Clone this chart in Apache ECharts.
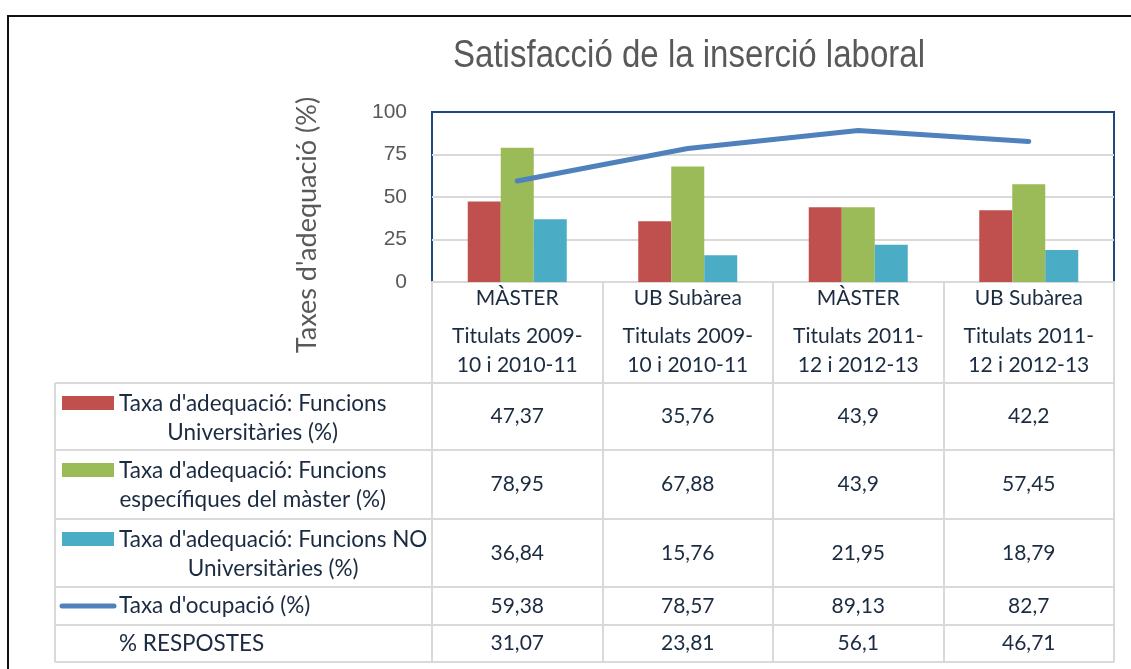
<!DOCTYPE html>
<html lang="ca">
<head>
<meta charset="UTF-8">
<title>Satisfacció de la inserció laboral</title>
<style>
    html, body { margin: 0; padding: 0; background: #fff; }
    #main { width: 1131px; height: 669px; }
</style>
</head>
<body>
<div id="main"></div>
<script src="https://cdn.jsdelivr.net/npm/echarts@6/dist/echarts.min.js"></script>
<script>
// categories
var groups = ['MÀSTER', 'UB Subàrea', 'MÀSTER', 'UB Subàrea'];
var periods = ['Titulats 2009-\n10 i 2010-11', 'Titulats 2009-\n10 i 2010-11',
               'Titulats 2011-\n12 i 2012-13', 'Titulats 2011-\n12 i 2012-13'];

// series values
var funcUniv   = [47.37, 35.76, 43.9, 42.2];
var funcMaster = [78.95, 67.88, 43.9, 57.45];
var funcNoUniv = [36.84, 15.76, 21.95, 18.79];
var ocupacio   = [59.38, 78.57, 89.13, 82.7];
var respostes  = [31.07, 23.81, 56.1, 46.71];

var rowNames = [
    "Taxa d'adequació: Funcions\nUniversitàries (%)",
    "Taxa d'adequació: Funcions\nespecífiques del màster (%)",
    "Taxa d'adequació: Funcions NO\nUniversitàries (%)",
    "Taxa d'ocupació (%)",
    "% RESPOSTES"
];
var rowData = [funcUniv, funcMaster, funcNoUniv, ocupacio, respostes];
var yTicks = [0, 25, 50, 75, 100];
var titleText = 'Satisfacció de la inserció laboral';

// look
var colors = ['#C0504D', '#9BBB59', '#4BACC6', '#4F81BD'];
var textColor = '#1B2B40';
var gridColor = '#D9D9D9';
var tableFont = 'Lato';
var tableSize = 21;
var legendSize = 22.5;
var axisY = 282;               // y of the category axis
var rowLines = [383, 450, 519, 587, 625, 662];
var tableLeft = 55, tableRight = 1114;

function fmt(v) { return String(v).replace('.', ','); }

var measureCtx = document.createElement('canvas').getContext('2d');
function textWidth(s, font) { measureCtx.font = font; return measureCtx.measureText(s).width; }

var myChart = echarts.init(document.getElementById('main'));

var xAxes = [{
    type: 'category',
    data: groups,
    position: 'bottom',
    axisLine: { lineStyle: { color: gridColor, width: 2 } },
    axisTick: { show: true, length: rowLines[5] - axisY, lineStyle: { color: gridColor, width: 2 } },
    axisLabel: {
        interval: 0, margin: 16, verticalAlign: 'middle',
        fontFamily: tableFont, fontSize: tableSize, color: textColor
    }
}, {
    type: 'category',
    data: periods,
    position: 'bottom',
    axisLine: { show: false },
    axisTick: { show: false },
    axisLabel: {
        interval: 0, margin: 69, lineHeight: 29, verticalAlign: 'middle',
        fontFamily: tableFont, fontSize: tableSize, color: textColor
    }
}];

// one hidden axis per table row, labels are the row values
rowData.forEach(function (row, r) {
    xAxes.push({
        type: 'category',
        data: groups,
        position: 'bottom',
        axisLine: { show: false },
        axisTick: { show: false },
        axisLabel: {
            interval: 0,
            margin: (rowLines[r] + rowLines[r + 1]) / 2 - axisY,
            verticalAlign: 'middle',
            fontFamily: tableFont, fontSize: tableSize, color: textColor,
            formatter: function (v, i) { return fmt(row[i]); }
        }
    });
});

var graphics = [];
// outer frame
graphics.push({
    type: 'polyline', silent: true,
    shape: { points: [[8, 700], [8, 16], [1140, 16]] },
    style: { stroke: '#111', lineWidth: 2, fill: null }
});
// title, condensed like the original narrow face
var titleFont = '38px "Liberation Sans"';
var titleScale = 472 / textWidth(titleText, titleFont);
graphics.push({
    type: 'text', silent: true, x: 689, y: 57, scaleX: titleScale,
    style: {
        text: titleText, fontFamily: 'Liberation Sans', fontSize: 38,
        fill: '#595959', align: 'center', verticalAlign: 'middle'
    }
});
// y axis title
graphics.push({
    type: 'text', silent: true, x: 307, y: 225, rotation: Math.PI / 2,
    style: {
        text: "Taxes d'adequació (%)", fontFamily: tableFont, fontSize: 27,
        fill: '#595959', align: 'center', verticalAlign: 'middle'
    }
});
// table lines
rowLines.forEach(function (y) {
    graphics.push({
        type: 'line', silent: true,
        shape: { x1: tableLeft, y1: y, x2: tableRight, y2: y },
        style: { stroke: gridColor, lineWidth: 2 }
    });
});
graphics.push({
    type: 'line', silent: true,
    shape: { x1: tableLeft, y1: rowLines[0], x2: tableLeft, y2: rowLines[5] },
    style: { stroke: gridColor, lineWidth: 2 }
});
// legend keys and row names
rowNames.forEach(function (name, r) {
    var top = rowLines[r], bottom = rowLines[r + 1];
    var lines = name.split('\n');
    var textX = 119;
    if (r < 3) {
        graphics.push({
            type: 'rect', silent: true,
            shape: { x: 62, y: top + 13, width: 52, height: 14 },
            style: { fill: colors[r] }
        });
    } else if (r === 3) {
        graphics.push({
            type: 'line', silent: true,
            shape: { x1: 62, y1: (top + bottom) / 2, x2: 114, y2: (top + bottom) / 2 },
            style: { stroke: colors[3], lineWidth: 5, lineCap: 'round' }
        });
    }
    var w = Math.max.apply(null, lines.map(function (s) {
        return textWidth(s, legendSize + 'px ' + tableFont);
    }));
    graphics.push({
        type: 'text', silent: true,
        x: lines.length > 1 ? textX + w / 2 : textX,
        y: lines.length > 1 ? top + 6.5 : (top + bottom) / 2,
        style: {
            text: name, fontFamily: tableFont, fontSize: legendSize, lineHeight: 29,
            fill: textColor, align: lines.length > 1 ? 'center' : 'left',
            verticalAlign: lines.length > 1 ? 'top' : 'middle'
        }
    });
});

var option = {
    animation: false,
    grid: {
        left: 432, right: 1131 - tableRight, top: 112, bottom: 669 - axisY,
        show: true, borderColor: '#1F497D', borderWidth: 2, backgroundColor: 'transparent'
    },
    xAxis: xAxes,
    yAxis: {
        type: 'value', min: yTicks[0], max: yTicks[yTicks.length - 1], interval: 25,
        axisLine: { show: false },
        axisTick: { show: false },
        splitLine: { showMaxLine: false, lineStyle: { color: gridColor, width: 2 } },
        axisLabel: { margin: 25, fontFamily: 'Liberation Sans', fontSize: 21, color: '#595959' }
    },
    series: [{
        name: rowNames[0], type: 'bar', data: funcUniv, barWidth: 33, barGap: '0%',
        itemStyle: { color: colors[0] }
    }, {
        name: rowNames[1], type: 'bar', data: funcMaster, barWidth: 33, barGap: '0%',
        itemStyle: { color: colors[1] }
    }, {
        name: rowNames[2], type: 'bar', data: funcNoUniv, barWidth: 33, barGap: '0%',
        itemStyle: { color: colors[2] }
    }, {
        name: rowNames[3], type: 'line', data: ocupacio, symbol: 'none', z: 5,
        lineStyle: { color: colors[3], width: 5, cap: 'round', join: 'round' }
    }],
    graphic: graphics
};
myChart.setOption(option);
</script>
</body>
</html>
